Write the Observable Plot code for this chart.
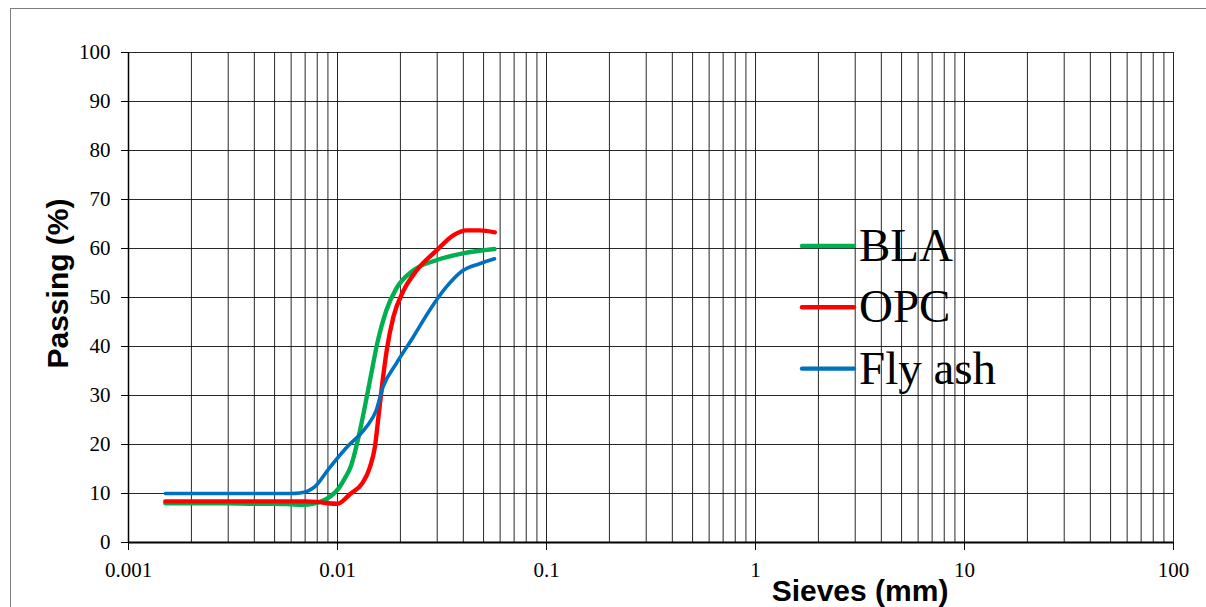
<!DOCTYPE html>
<html>
<head>
<meta charset="utf-8">
<script src="https://cdn.jsdelivr.net/npm/d3@7"></script>
<script src="https://cdn.jsdelivr.net/npm/@observablehq/plot@0.6"></script>
<style>
  html, body { margin: 0; padding: 0; background: #fff; }
  #chart { position: relative; width: 1206px; height: 607px; overflow: hidden; }
</style>
</head>
<body>
<div id="chart"></div>
<script>
// ---- Data ----
const seriesNames = ["BLA", "OPC", "Fly ash"];
const seriesColors = ["#00B050", "#FF0000", "#0070C0"];

const blaSize = [0.0015, 0.002, 0.003, 0.004, 0.005, 0.006, 0.0068, 0.0076, 0.0085, 0.0093, 0.0101, 0.0108, 0.0116, 0.0125, 0.0135, 0.0145, 0.0156, 0.0171, 0.0191, 0.023, 0.0297, 0.0398, 0.0564];
const blaPassing = [8.0, 8.0, 8.0, 7.9, 7.9, 7.8, 7.7, 7.9, 8.5, 9.5, 11.0, 13.0, 15.6, 20.8, 27.6, 34.4, 41.2, 47.3, 51.8, 55.5, 57.6, 59.0, 59.9];

const opcSize = [0.0015, 0.002, 0.003, 0.004, 0.005, 0.006, 0.007, 0.008, 0.009, 0.0100, 0.0115, 0.0131, 0.0143, 0.0151, 0.0157, 0.0163, 0.0172, 0.0185, 0.0207, 0.0239, 0.0298, 0.0358, 0.0415, 0.048, 0.0566];
const opcPassing = [8.4, 8.4, 8.4, 8.4, 8.4, 8.4, 8.4, 8.3, 8.0, 7.9, 9.9, 12.0, 15.4, 19.5, 25.6, 31.7, 39.2, 46.0, 51.4, 55.5, 59.6, 62.7, 63.7, 63.7, 63.3];

const flySize = [0.0015, 0.002, 0.003, 0.004, 0.005, 0.006, 0.0066, 0.0072, 0.0078, 0.0091, 0.011, 0.0137, 0.0153, 0.0165, 0.0191, 0.023, 0.0275, 0.0331, 0.0398, 0.0478, 0.0564];
const flyPassing = [10, 10, 10, 10, 10, 10, 10.1, 10.5, 11.4, 15.1, 19.3, 23.5, 26.9, 31.7, 36.5, 41.9, 47.3, 52.1, 55.5, 56.9, 57.9];

const xTicks = [0.001, 0.01, 0.1, 1, 10, 100];
const xTickLabels = ["0.001", "0.01", "0.1", "1", "10", "100"];
const yTicks = [0, 10, 20, 30, 40, 50, 60, 70, 80, 90, 100];

const xTitle = "Sieves (mm)";
const yTitle = "Passing (%)";

// ---- Build table ----
const sizes = [blaSize, opcSize, flySize];
const passings = [blaPassing, opcPassing, flyPassing];
const rows = [];
seriesNames.forEach((name, i) => {
  sizes[i].forEach((s, j) => rows.push({material: name, size: s, passing: passings[i][j]}));
});

// minor gridlines: 1..9 x each decade
const xGrid = [];
for (let d = 0; d < xTicks.length - 1; d++) {
  for (let k = 1; k <= 9; k++) xGrid.push(+(xTicks[d] * k).toPrecision(6));
}
xGrid.push(xTicks[xTicks.length - 1]);

const xLabelOf = d => {
  const i = xTicks.findIndex(t => Math.abs(t - d) / t < 1e-6);
  return i >= 0 ? xTickLabels[i] : "";
};

const serif = "'Liberation Serif', 'Times New Roman', serif";
const sans = "'Liberation Sans', Arial, sans-serif";

const chart = Plot.plot({
  width: 1206,
  height: 607,
  marginLeft: 128,
  marginRight: 33,
  marginTop: 52,
  marginBottom: 65,
  style: {fontFamily: serif, fontSize: "21px", color: "#000", background: "#fff", overflow: "hidden"},
  x: {type: "log", domain: [0.001, 100]},
  y: {domain: [0, 100]},
  color: {domain: seriesNames, range: seriesColors},
  marks: [
    Plot.ruleX(xGrid, {stroke: "#111", strokeOpacity: 0.9, strokeWidth: 1}),
    Plot.ruleY(yTicks, {stroke: "#111", strokeOpacity: 0.9, strokeWidth: 1}),
    Plot.axisX(xTicks, {
      tickSize: 8, tickPadding: 12, tickFormat: xLabelOf,
      fontSize: 21, fontFamily: serif, label: null, stroke: "#000"
    }),
    Plot.axisY(yTicks, {
      tickSize: 7, tickPadding: 11, fontSize: 21, fontFamily: serif, label: null, stroke: "#000"
    }),
    Plot.ruleX([0.001], {stroke: "#000", strokeWidth: 1.5}),
    Plot.ruleY([0], {stroke: "#000", strokeWidth: 2.2}),
    Plot.line(rows, {
      x: "size", y: "passing", z: "material", stroke: "material",
      strokeWidth: d => d.material === "Fly ash" ? 3.6 : 4.4,
      curve: "monotone-x", strokeLinecap: "round", strokeLinejoin: "round"
    }),
    Plot.text([xTitle], {
      frameAnchor: "bottom", textAnchor: "middle", lineAnchor: "bottom",
      dx: 209, dy: 58, fontFamily: sans, fontWeight: "bold", fontSize: 30, fill: "#000"
    }),
    Plot.text([yTitle], {
      frameAnchor: "left", textAnchor: "middle", lineAnchor: "bottom", rotate: -90,
      dx: -61, dy: -14, fontFamily: sans, fontWeight: "bold", fontSize: 30, fill: "#000"
    })
  ]
});

// legend + outer chart border drawn into the same SVG
const svg = d3.select(chart);
const legend = svg.append("g").attr("text-anchor", "start");
seriesNames.forEach((name, i) => {
  const g = legend.append("g").attr("transform", `translate(0, ${61.3 * i})`);
  g.append("line")
    .attr("x1", 802).attr("x2", 854).attr("y1", 246).attr("y2", 246)
    .attr("stroke", seriesColors[i]).attr("stroke-width", 4.4).attr("stroke-linecap", "round");
  g.append("text")
    .attr("x", 859).attr("y", 261)
    .attr("text-anchor", "start")
    .attr("font-family", serif).attr("font-size", 47).attr("fill", "#000")
    .text(name);
});
svg.append("rect")
  .attr("x", 10.5).attr("y", 8.5).attr("width", 1400).attr("height", 800)
  .attr("fill", "none").attr("stroke", "#7f7f7f").attr("stroke-width", 1);

document.getElementById("chart").appendChild(chart);
</script>
</body>
</html>
